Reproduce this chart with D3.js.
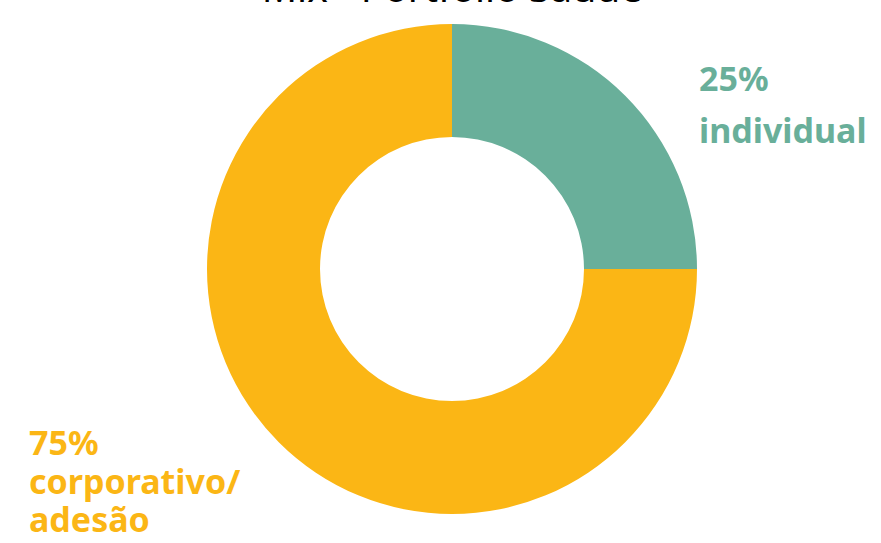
<!DOCTYPE html>
<html>
<head>
<meta charset="utf-8">
<script src="https://cdn.jsdelivr.net/npm/d3@7"></script>
<style>
  html, body { margin: 0; padding: 0; background: #fff; }
  svg { display: block; }
  text { font-family: "Noto Sans", "Open Sans", sans-serif; }
</style>
</head>
<body>
<svg id="chart" width="881" height="543"></svg>
<script>
// Portfolio mix data
const categories = ["individual", "corporativo/adesão"];
const shares = [25, 75];
const labelLines = [["25%", "individual"], ["75%", "corporativo/", "adesão"]];
const colors = ["#69AF9A", "#FBB615"];
const title = "Mix - Portfólio Saúde";

const svg = d3.select("#chart");
const cx = 452, cy = 269, outerR = 245, innerR = 132;

const pie = d3.pie().sort(null).value(d => d.value);
const arcs = pie(categories.map((c, i) => ({ name: c, value: shares[i] })));
const arc = d3.arc().innerRadius(innerR).outerRadius(outerR);

const color = d3.scaleOrdinal().domain(categories).range(colors);

svg.append("g")
  .attr("transform", `translate(${cx},${cy})`)
  .selectAll("path")
  .data(arcs)
  .join("path")
  .attr("d", arc)
  .attr("fill", d => color(d.data.name));

// title, mostly above the top edge
svg.append("text")
  .attr("x", cx)
  .attr("y", 1.5)
  .attr("text-anchor", "middle")
  .attr("font-size", 39)
  .attr("fill", "#000")
  .text(title);

// slice labels
const labelPos = [
  { x: 699, y: 91, step: 52 },
  { x: 29, y: 455, step: 38.5 }
];
labelLines.forEach((lines, i) => {
  const t = svg.append("text")
    .attr("x", labelPos[i].x)
    .attr("y", labelPos[i].y)
    .attr("font-size", 34)
    .attr("font-weight", 700)
    .attr("fill", color(categories[i]));
  lines.forEach((ln, j) => {
    t.append("tspan")
      .attr("x", labelPos[i].x)
      .attr("dy", j === 0 ? 0 : labelPos[i].step)
      .text(ln);
  });
});
</script>
</body>
</html>
